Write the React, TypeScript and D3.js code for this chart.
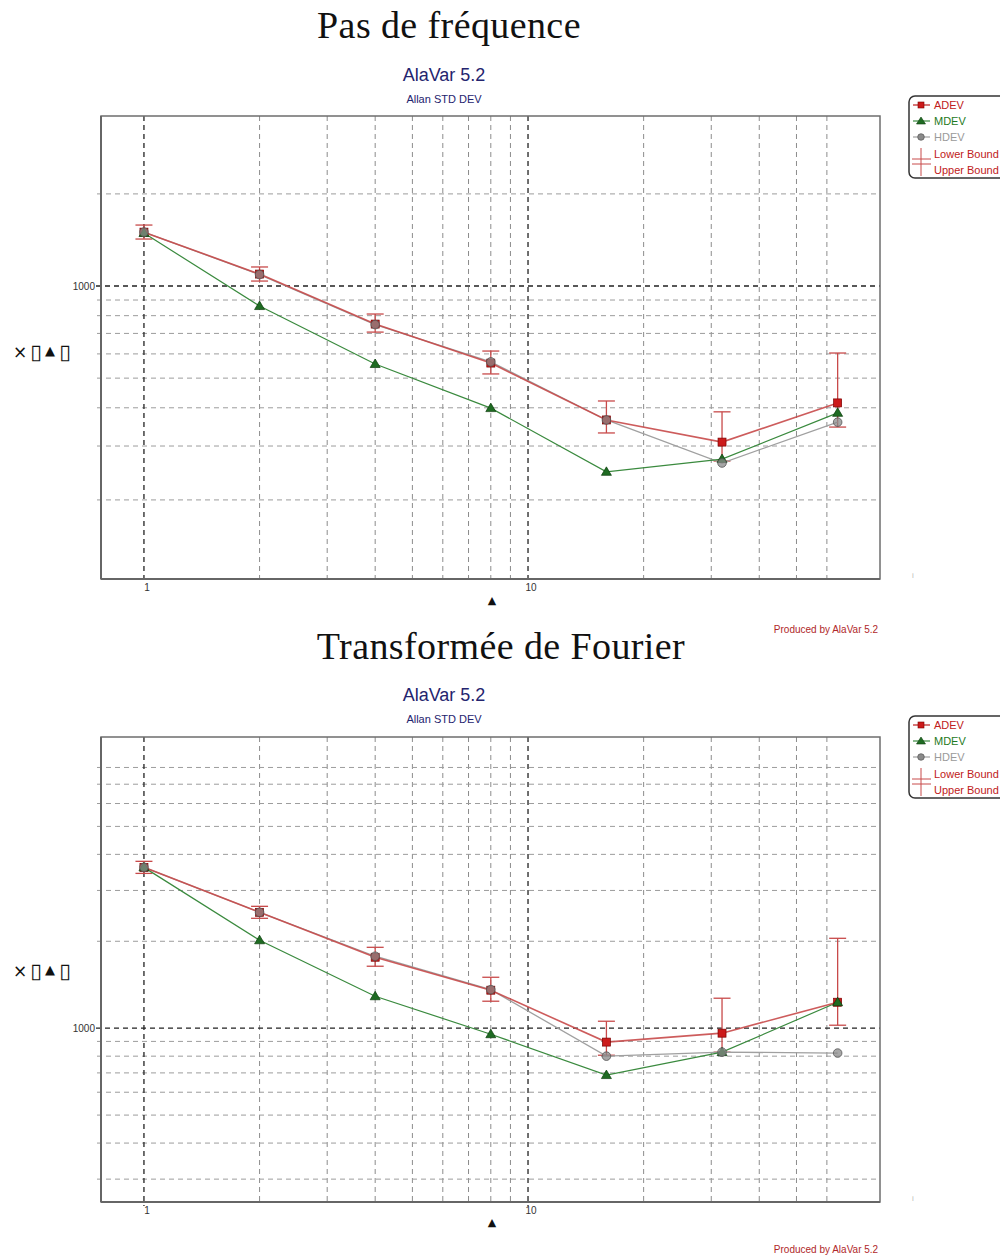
import React from 'react';
import * as d3 from 'd3';

const taus = [1, 2, 4, 8, 16, 32, 64];

// Chart 1 : Pas de fréquence
const adev1 = [1500, 1094, 751, 560, 365, 309, 415];
const mdev1 = [1490, 860, 556, 399, 247, 272, 385];
const hdev1 = [1500, 1090, 748, 565, 365, 264, 359];
const lower1 = [1424, 1038, 707, 516, 331, 268, 346];
const upper1 = [1582, 1154, 810, 613, 421, 388, 604];

// Chart 2 : Transformée de Fourier
const adev2 = [3606, 2520, 1761, 1354, 895, 961, 1230];
const mdev2 = [3606, 2016, 1290, 953, 688, 826, 1230];
const hdev2 = [3606, 2520, 1775, 1360, 800, 826, 820];
const lower2 = [3437, 2402, 1639, 1240, 806, 826, 1024];
const upper2 = [3784, 2643, 1906, 1501, 1057, 1270, 2048];

const xMajorTicks = [1, 10];
const xMinorGrid = [2, 3, 4, 5, 6, 7, 8, 9, 20, 30, 40, 50, 60];
const yMajorTicks = [1000];
const yGrid1 = [200, 300, 400, 500, 600, 700, 800, 900, 2000];
const yGrid2 = [300, 400, 500, 600, 700, 800, 900, 2000, 3000, 4000, 5000, 6000, 7000, 8000];

const titles = ['Pas de fréquence', 'Transformée de Fourier'];
const legendLabels = ['ADEV', 'MDEV', 'HDEV', 'Lower Bound', 'Upper Bound'];

const RED = '#cc1a1a';
const RED_LINE = '#c84a4a';
const GREEN = '#1e6b22';
const GREEN_LINE = '#3a8a3e';
const GRAY = '#8a8a8a';
const GRAY_LINE = '#a0a0a0';
const NAVY = '#24246e';
const SANS = '"Liberation Sans", Arial, sans-serif';

const PL = 101, PR = 880;

type ChartProps = {
  title: string; titleX: number; titleY: number;
  top: number; bottom: number;
  yDomain: [number, number];
  yGrid: number[];
  adev: number[]; mdev: number[]; hdev: number[]; lower: number[]; upper: number[];
  headY: number; yLabelY: number; xLabelY: number; producedY: number; legendTop: number;
};

function Legend({ top }: { top: number }) {
  const x0 = 909;
  const rows = [top + 9, top + 25, top + 41];
  return (
    <g>
      <rect x={x0} y={top} width={100} height={82} rx={6} fill="white" stroke="#333" strokeWidth={1.5} />
      <line x1={913} x2={930} y1={rows[0]} y2={rows[0]} stroke={RED_LINE} strokeWidth={1.5} />
      <rect x={918} y={rows[0] - 3} width={6} height={6} fill={RED} stroke="#7a0000" strokeWidth={0.6} />
      <text x={934} y={rows[0] + 4} fontFamily={SANS} fontSize={11} fill="#c02020">{legendLabels[0]}</text>
      <line x1={913} x2={930} y1={rows[1]} y2={rows[1]} stroke={GREEN_LINE} strokeWidth={1.2} />
      <path d={`M${921},${rows[1] - 4} L${925.5},${rows[1] + 3} L${916.5},${rows[1] + 3} Z`} fill={GREEN} stroke="#0d3d0d" strokeWidth={0.6} />
      <text x={934} y={rows[1] + 4} fontFamily={SANS} fontSize={11} fill="#1e7a22">{legendLabels[1]}</text>
      <line x1={913} x2={930} y1={rows[2]} y2={rows[2]} stroke={GRAY_LINE} strokeWidth={1.2} />
      <circle cx={921} cy={rows[2]} r={3.3} fill={GRAY} stroke="#555" strokeWidth={0.7} />
      <text x={934} y={rows[2] + 4} fontFamily={SANS} fontSize={11} fill="#9a9a9a">{legendLabels[2]}</text>
      <line x1={921} x2={921} y1={top + 52} y2={top + 80} stroke={RED_LINE} strokeWidth={1} />
      <line x1={912} x2={931} y1={top + 63} y2={top + 63} stroke={RED_LINE} strokeWidth={1} />
      <line x1={912} x2={931} y1={top + 68} y2={top + 68} stroke={RED_LINE} strokeWidth={1} />
      <text x={934} y={top + 62} fontFamily={SANS} fontSize={11} fill="#c02020">{legendLabels[3]}</text>
      <text x={934} y={top + 78} fontFamily={SANS} fontSize={11} fill="#c02020">{legendLabels[4]}</text>
    </g>
  );
}

function Chart(p: ChartProps) {
  const x = d3.scaleLog().domain([0.773, 82.5]).range([PL, PR]);
  const y = d3.scaleLog().domain(p.yDomain).range([p.bottom, p.top]);
  const idx = taus.map((_, i) => i);
  const line = (vals: number[]) =>
    d3.line<number>().x(i => x(taus[i])).y(i => y(vals[i]))(idx) || '';
  const tri = (px: number, py: number) =>
    `M${px},${py - 5} L${px + 5},${py + 3.5} L${px - 5},${py + 3.5} Z`;
  const glyphFont = '"DejaVu Sans", sans-serif';
  return (
    <g>
      <text x={p.titleX} y={p.titleY} textAnchor="middle" fontFamily='"Liberation Serif", "DejaVu Serif", serif' fontSize={38} letterSpacing={0.4} fill="#111">{p.title}</text>
      <text x={444} y={p.headY} textAnchor="middle" fontFamily={SANS} fontSize={18} fill={NAVY}>AlaVar 5.2</text>
      <text x={444} y={p.headY + 22} textAnchor="middle" fontFamily={SANS} fontSize={11} fill={NAVY}>Allan STD DEV</text>

      {xMinorGrid.map(v => (
        <line key={'xg' + v} x1={x(v)} x2={x(v)} y1={p.top} y2={p.bottom + 3} stroke="#8c8c8c" strokeWidth={1} strokeDasharray="5,4" />
      ))}
      {p.yGrid.map(v => (
        <line key={'yg' + v} x1={PL - 4} x2={PR} y1={y(v)} y2={y(v)} stroke="#9c9c9c" strokeWidth={1} strokeDasharray="5,4" />
      ))}
      {xMajorTicks.map(v => (
        <line key={'xm' + v} x1={x(v)} x2={x(v)} y1={p.top} y2={p.bottom + 4} stroke="#222" strokeWidth={1.3} strokeDasharray="5,4" />
      ))}
      {yMajorTicks.map(v => (
        <line key={'ym' + v} x1={PL - 5} x2={PR} y1={y(v)} y2={y(v)} stroke="#222" strokeWidth={1.3} strokeDasharray="5,4" />
      ))}

      <rect x={PL} y={p.top} width={PR - PL} height={p.bottom - p.top} fill="none" stroke="#6e6e6e" strokeWidth={1.5} />
      <line x1={PL} x2={PL} y1={p.top} y2={p.bottom} stroke="#666" strokeWidth={2} />
      <line x1={PL} x2={PR} y1={p.bottom} y2={p.bottom} stroke="#666" strokeWidth={2} />

      {yMajorTicks.map(v => (
        <text key={'yl' + v} x={95} y={y(v) + 3.5} textAnchor="end" fontFamily={SANS} fontSize={10} fill="#333">{v}</text>
      ))}
      {xMajorTicks.map(v => (
        <text key={'xl' + v} x={x(v) + 3} y={p.bottom + 12} textAnchor="middle" fontFamily={SANS} fontSize={10} fill="#333">{v}</text>
      ))}

      <text x={20} y={p.yLabelY + 6} textAnchor="middle" fontFamily={glyphFont} fontSize={17} fill="#111">×</text>
      <text x={36} y={p.yLabelY + 7} textAnchor="middle" fontFamily={glyphFont} fontSize={21} fill="#111">▯</text>
      <text x={50} y={p.yLabelY + 3} textAnchor="middle" fontFamily={glyphFont} fontSize={13} fill="#111">▲</text>
      <text x={65} y={p.yLabelY + 7} textAnchor="middle" fontFamily={glyphFont} fontSize={21} fill="#111">▯</text>
      <text x={492} y={p.xLabelY} textAnchor="middle" fontFamily={glyphFont} fontSize={11} fill="#111">▲</text>
      <text x={826} y={p.producedY} textAnchor="middle" fontFamily={SANS} fontSize={10} fill="#b0282a">Produced by AlaVar 5.2</text>

      {idx.map(i => {
        const px = x(taus[i]);
        return (
          <g key={'eb' + i} stroke={RED_LINE} strokeWidth={1.3}>
            <line x1={px} x2={px} y1={y(p.upper[i])} y2={y(p.lower[i])} />
            <line x1={px - 8.5} x2={px + 8.5} y1={y(p.upper[i])} y2={y(p.upper[i])} />
            <line x1={px - 8.5} x2={px + 8.5} y1={y(p.lower[i])} y2={y(p.lower[i])} />
          </g>
        );
      })}

      <path d={line(p.hdev)} fill="none" stroke={GRAY_LINE} strokeWidth={1.3} />
      <path d={line(p.mdev)} fill="none" stroke={GREEN_LINE} strokeWidth={1.2} />
      <path d={line(p.adev)} fill="none" stroke={RED_LINE} strokeWidth={1.6} strokeOpacity={0.9} />

      {idx.map(i => (
        <rect key={'sq' + i} x={x(taus[i]) - 4} y={y(p.adev[i]) - 4} width={8} height={8} fill={RED} stroke="#7a0000" strokeWidth={0.7} />
      ))}
      {idx.map(i => (
        <path key={'tr' + i} d={tri(x(taus[i]), y(p.mdev[i]))} fill={GREEN} stroke="#0d3d0d" strokeWidth={0.7} />
      ))}
      {idx.map(i => (
        <circle key={'ci' + i} cx={x(taus[i])} cy={y(p.hdev[i])} r={4.3} fill={GRAY} fillOpacity={0.75} stroke="#555" strokeWidth={0.8} />
      ))}

      <text x={912} y={p.bottom - 1} fontFamily={SANS} fontSize={8} fill="#bbb">i</text>
      <Legend top={p.legendTop} />
    </g>
  );
}

export default function App() {
  return (
    <svg width={1000} height={1259} style={{ position: 'absolute', left: 0, top: 0, background: 'white' }}>
      <rect x={0} y={0} width={1000} height={1259} fill="white" />
      <Chart title={titles[0]} titleX={449} titleY={38} top={116} bottom={579}
        yDomain={[110.3, 3594]} yGrid={yGrid1}
        adev={adev1} mdev={mdev1} hdev={hdev1} lower={lower1} upper={upper1}
        headY={81} yLabelY={352} xLabelY={604} producedY={633} legendTop={96} />
      <Chart title={titles[1]} titleX={501} titleY={659} top={737} bottom={1202}
        yDomain={[250, 10200]} yGrid={yGrid2}
        adev={adev2} mdev={mdev2} hdev={hdev2} lower={lower2} upper={upper2}
        headY={701} yLabelY={971} xLabelY={1226} producedY={1253} legendTop={716} />
    </svg>
  );
}
